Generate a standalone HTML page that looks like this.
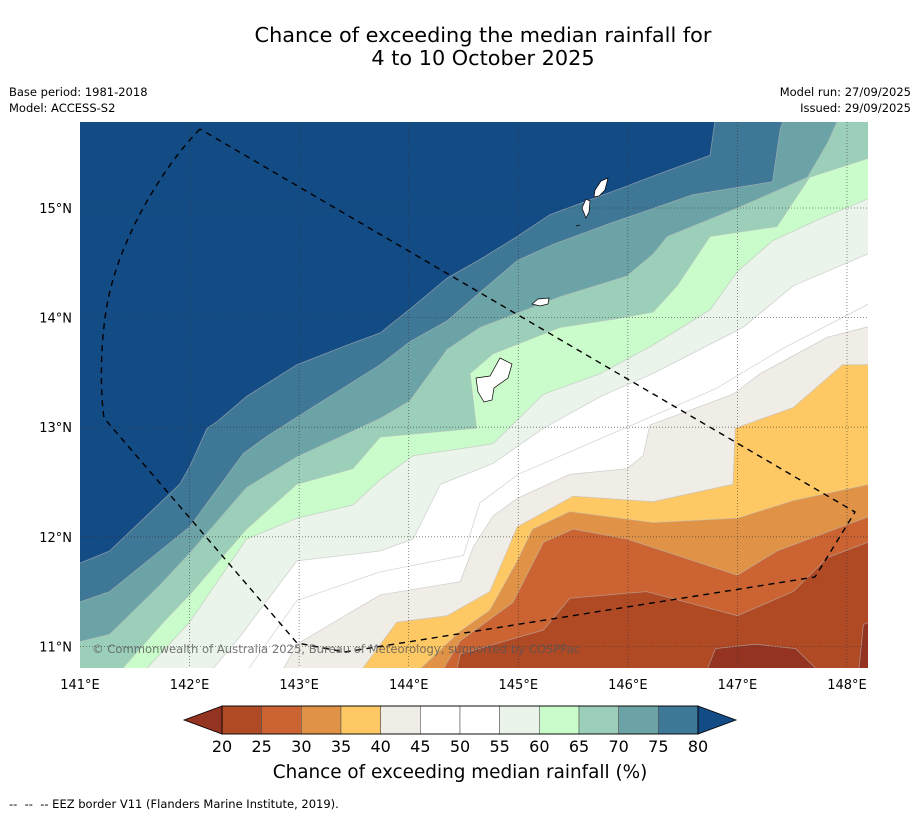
<!DOCTYPE html>
<html><head><meta charset="utf-8">
<style>
html,body{margin:0;padding:0;background:#fff;}
body{width:919px;height:816px;overflow:hidden;font-family:"Liberation Sans","DejaVu Sans",sans-serif;}
svg text{font-family:"DejaVu Sans","Liberation Sans",sans-serif;}
</style></head>
<body>
<svg id="chart" width="919" height="816" viewBox="0 0 919 816" xmlns="http://www.w3.org/2000/svg">
<text x="483" y="42" font-size="20.8" text-anchor="middle" fill="#000">Chance of exceeding the median rainfall for</text>
<text x="483" y="65" font-size="20.8" text-anchor="middle" fill="#000">4 to 10 October 2025</text>
<text x="9" y="96" font-size="11.5">Base period: 1981-2018</text>
<text x="9" y="112" font-size="11.5">Model: ACCESS-S2</text>
<text x="911" y="96" font-size="11.5" text-anchor="end">Model run: 27/09/2025</text>
<text x="911" y="112" font-size="11.5" text-anchor="end">Issued: 29/09/2025</text>
<defs><clipPath id="plotclip"><rect x="80" y="122" width="788" height="546"/></clipPath></defs>
<g id="plot" clip-path="url(#plotclip)">
<rect x="80" y="122" width="788" height="546" fill="#943322"/>
<g id="bands"></g>
<g id="grid"></g>
<g fill="#fff" stroke="#000" stroke-width="0.7">
<path d="M476,378 L490,376 L500,358 L512,364 L508,378 L494,388 L492,400 L484,402 L478,392 Z"/>
<path d="M532,304 L538,299 L549,298 L548,304 L540,306 Z"/>
<path d="M582,208 L586,199 L590,201 L589,212 L586,218 Z"/>
<path d="M595,190 L601,181 L608,178 L605,190 L599,196 L594,197 Z"/>
<path d="M576,226 L580,225" fill="none"/>
</g>
<path d="M200,129 C160,170 120,240 108,300 C100,340 100,390 104,418 L297,643 L345,652 L815,577 L855,512 L200,129" fill="none" stroke="#000" stroke-width="1.4" stroke-dasharray="6,5"/>
<text x="92" y="653" font-size="11.6" fill="#555" fill-opacity="0.8">© Commonwealth of Australia 2025, Bureau of Meteorology, supported by COSPPac</text>
</g>
<g id="axes"></g>
<g id="colorbar"></g>
<text x="460" y="778" font-size="18.4" text-anchor="middle">Chance of exceeding median rainfall (%)</text>
<text x="9" y="808" font-size="11.5" xml:space="preserve" style="white-space:pre">--  --  -- EEZ border V11 (Flanders Marine Institute, 2019).</text>
</svg>
<script>
// contour threshold levels and band colours (colour of region above each level)
const levels = [20, 25, 30, 35, 40, 45, 50, 55, 60, 65, 70, 75, 80];
const bandColors = ["#b04a25","#cb6432","#e09346","#fec965","#f0ece6","#ffffff","#ffffff","#eaf4ea","#c9fcca","#9ccfb9","#6ca3a6","#3f7796","#134b85"];
const belowColor = "#943322";
const lonTicks = [141,142,143,144,145,146,147,148];
const latTicks = [11,12,13,14,15];
// contour boundaries [lon, lat]; region NW of each line exceeds the level
const c20 = [[146.61,10.5],[146.8,10.98],[147.16,11.02],[147.53,10.98],[147.92,10.6],[148.1,10.7],[148.15,11.2],[148.4,11.3]];
const c25 = [[144.4,10.6],[144.47,10.93],[145.23,11.15],[145.47,11.44],[146.17,11.50],[147,11.28],[147.51,11.50],[147.82,11.81],[148.4,12.03]];
const c30 = [[144.2,10.6],[144.47,11.05],[144.95,11.40],[145.23,11.95],[145.5,12.07],[145.99,11.98],[147,11.65],[147.36,11.87],[148.4,12.26]];
const c35 = [[143.9,10.6],[144.47,11.14],[144.74,11.33],[144.99,11.78],[145.13,12.07],[145.47,12.23],[146.23,12.13],[147,12.17],[147.51,12.33],[148.4,12.52]];
const c40 = [[143.4,10.6],[143.58,10.80],[143.89,11.22],[144.35,11.28],[144.74,11.50],[144.99,12.09],[145.5,12.37],[146.23,12.32],[146.96,12.48],[146.98,12.99],[147.51,13.18],[147.96,13.57],[148.4,13.57]];
const c45 = [[142.75,10.6],[142.98,11.02],[143.74,11.47],[144.47,11.59],[144.59,11.91],[144.77,12.19],[144.99,12.35],[145.47,12.57],[145.99,12.62],[146.14,12.74],[146.2,13.02],[146.96,13.30],[147.21,13.49],[147.82,13.82],[148.4,13.97]];
const c50 = [[142.4,10.6],[142.98,11.42],[143.74,11.68],[144.5,11.83],[144.65,12.31],[145.0,12.57],[145.6,12.83],[146.2,13.09],[146.8,13.35],[147.4,13.71],[148.4,14.23]];
const c55 = [[142.05,10.6],[142.46,11.09],[142.98,11.78],[143.74,11.87],[144.04,11.98],[144.29,12.48],[144.65,12.62],[144.77,12.67],[145.23,12.99],[145.75,13.28],[146.23,13.49],[147.05,13.91],[147.51,14.29],[148.4,14.67]];
const c60 = [[141.5,10.6],[141.61,10.80],[142,11.22],[142.52,11.98],[142.98,12.17],[143.49,12.29],[143.74,12.52],[144.04,12.74],[144.65,12.83],[144.77,12.85],[145.23,13.30],[145.75,13.49],[146.23,13.75],[146.75,14.07],[147,14.42],[147.32,14.70],[147.75,14.90],[148.4,15.17]];
const c65 = [[141.3,10.6],[141.39,10.80],[141.76,11.22],[142,11.47],[142.52,12.07],[142.98,12.48],[143.49,12.62],[143.74,12.91],[144.62,12.99],[144.56,13.49],[144.77,13.67],[145.38,13.91],[145.90,13.99],[146.23,14.05],[146.45,14.29],[146.75,14.74],[147.36,14.83],[147.66,15.28],[148.4,15.52]];
const c70 = [[140.9,11.02],[141.27,11.11],[141.73,11.56],[142,11.85],[142.52,12.45],[142.98,12.73],[143.74,13.08],[144.01,13.24],[144.35,13.71],[144.65,13.91],[145.38,14.19],[145.99,14.38],[146.23,14.58],[146.36,14.74],[147,15.00],[147.64,15.28],[147.82,15.59],[147.96,15.9]];
const c75 = [[140.9,11.37],[141.27,11.50],[142.0,12.09],[142.49,12.76],[142.71,12.92],[143.01,13.11],[143.74,13.57],[144.01,13.78],[144.35,13.97],[144.65,14.23],[144.99,14.52],[145.32,14.67],[145.84,14.86],[146.59,15.12],[147.32,15.24],[147.39,15.72],[147.45,15.9]];
const c80 = [[140.9,11.72],[141.27,11.87],[141.91,12.48],[142.0,12.64],[142.16,12.99],[142.25,13.05],[142.52,13.28],[142.98,13.57],[143.44,13.75],[143.74,13.86],[144.04,14.10],[144.35,14.36],[144.65,14.53],[144.99,14.74],[145.29,14.94],[145.99,15.20],[146.36,15.34],[146.75,15.48],[146.81,15.9]];
const contours = [c20,c25,c30,c35,c40,c45,c50,c55,c60,c65,c70,c75,c80];

const NS = "http://www.w3.org/2000/svg";
function xScale(lon){ return 80 + (lon - 141) * 109.57; }
function yScale(lat){ return 208 - (lat - 15) * 109.6; }
function mk(tag, attrs, parent){ const e=document.createElementNS(NS,tag); for(const k in attrs) e.setAttribute(k,attrs[k]); parent.appendChild(e); return e; }

const bands = document.getElementById('bands');
contours.forEach((line, i) => {
  const pts = line.map(p => [xScale(p[0]), yScale(p[1])]);
  const closing = [[148.5,16],[140.8,16],[140.8,10.4]].map(p => [xScale(p[0]), yScale(p[1])]);
  const all = pts.concat(closing);
  const poly = mk('polygon', {points: all.map(p=>p[0].toFixed(1)+','+p[1].toFixed(1)).join(' '), fill: bandColors[i]}, bands);
  
  
  const pl = mk('polyline', {points: pts.map(p=>p[0].toFixed(1)+','+p[1].toFixed(1)).join(' '), fill: 'none', stroke: '#bbb', 'stroke-opacity': '0.6', 'stroke-width': '0.8'}, bands);
  
  
});

const grid = document.getElementById('grid');
const axes = document.getElementById('axes');
lonTicks.forEach(lon => {
  const x = xScale(lon);
  if (lon > 141) {
    const g = mk('line', {x1:x, x2:x, y1:122, y2:668, stroke:'#333', 'stroke-width':'0.8', 'stroke-dasharray':'1,2', 'stroke-opacity':'0.7'}, grid);
    
    
  }
  const t = mk('text', {x:x, y:689, 'font-size':'13', 'text-anchor':'middle'}, axes);
  t.textContent = lon + '°E';
  
  
});
latTicks.forEach(lat => {
  const y = yScale(lat);
  const g = mk('line', {x1:80, x2:868, y1:y, y2:y, stroke:'#333', 'stroke-width':'0.8', 'stroke-dasharray':'1,2', 'stroke-opacity':'0.7'}, grid);
  
  
  const t = mk('text', {x:72, y:y+5, 'font-size':'13', 'text-anchor':'end'}, axes);
  t.textContent = lat + '°N';
  
  
});

// colorbar
const cb = document.getElementById('colorbar');
const cbX0 = 222, cbX1 = 698, cbY = 706, cbH = 28;
function cbScale(v){ return cbX0 + (v - levels[0]) / (levels[levels.length-1] - levels[0]) * (cbX1 - cbX0); }
const lt = mk('polygon', {points: `${cbX0},${cbY} 184,${cbY+cbH/2} ${cbX0},${cbY+cbH}`, fill: belowColor, stroke:'#000', 'stroke-width':'0.8'}, cb);


for (let i = 0; i < levels.length - 1; i++) {
  const r = mk('rect', {x: cbScale(levels[i]), y: cbY, width: cbScale(levels[i+1]) - cbScale(levels[i]), height: cbH, fill: bandColors[i], stroke:'#555', 'stroke-width':'0.6'}, cb);
  
  
}
const rt = mk('polygon', {points: `${cbX1},${cbY} 736,${cbY+cbH/2} ${cbX1},${cbY+cbH}`, fill: bandColors[bandColors.length-1], stroke:'#000', 'stroke-width':'0.8'}, cb);


const frame = mk('rect', {x: cbX0, y: cbY, width: cbX1-cbX0, height: cbH, fill:'none', stroke:'#000', 'stroke-width':'0.9'}, cb);


levels.forEach(v => {
  const t = mk('text', {x: cbScale(v), y: 752, 'font-size':'16', 'text-anchor':'middle'}, cb);
  t.textContent = v;
  
  
});
</script>
</body></html>
